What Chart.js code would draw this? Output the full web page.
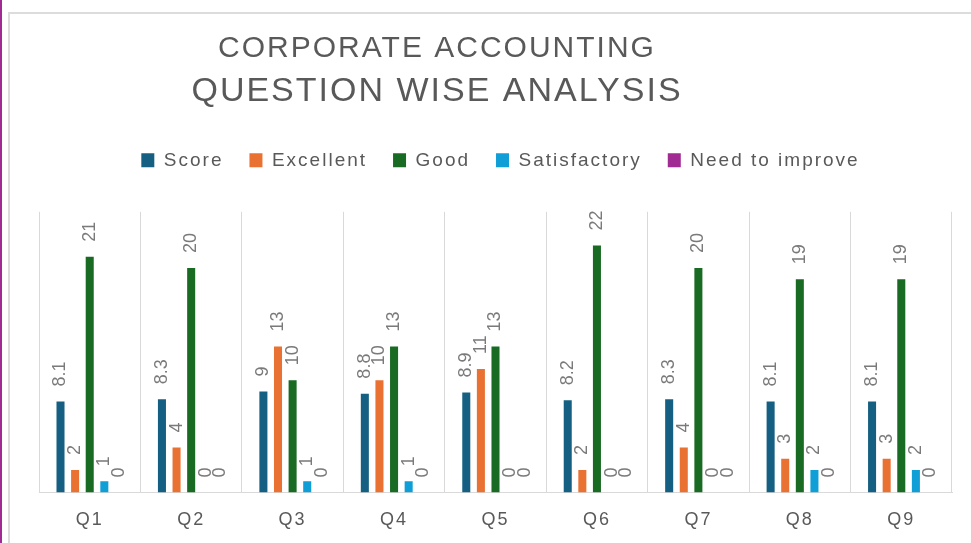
<!DOCTYPE html>
<html>
<head>
<meta charset="utf-8">
<script src="https://cdn.jsdelivr.net/npm/chart.js@4"></script>
<style>
  html, body { margin: 0; padding: 0; background: #fff; }
  body { width: 971px; height: 543px; position: relative; overflow: hidden; }
  #edge { position: absolute; left: 0; top: 0; width: 2px; height: 543px; background: #a02b93; }
  #frame { position: absolute; left: 8px; top: 12px; width: 1000px; height: 600px; border: 2px solid #dcdcdc; box-sizing: border-box; }
  #wrap { position: absolute; left: 0; top: 0; width: 971px; height: 548px; }
</style>
</head>
<body>
<div id="edge"></div>
<div id="frame"></div>
<div id="wrap"><canvas id="chart"></canvas></div>
<script>
const categories = ['Q1', 'Q2', 'Q3', 'Q4', 'Q5', 'Q6', 'Q7', 'Q8', 'Q9'];
const score = [8.1, 8.3, 9, 8.8, 8.9, 8.2, 8.3, 8.1, 8.1];
const excellent = [2, 4, 13, 10, 11, 2, 4, 3, 3];
const good = [21, 20, 10, 13, 13, 22, 20, 19, 19];
const satisfactory = [1, 0, 1, 1, 0, 0, 0, 2, 2];
const needToImprove = [0, 0, 0, 0, 0, 0, 0, 0, 0];

const FONT = "'Liberation Sans', Arial, sans-serif";

// wider letter spacing for title, legend and ticks; data labels reset it
const spacing = {
  id: 'spacing',
  beforeUpdate(chart) {
    chart.ctx.letterSpacing = '2px';
  },
  beforeDraw(chart) {
    chart.ctx.letterSpacing = '2px';
  }
};

// move the title/subtitle centre to the left, legend a bit right, like the original
const boxShift = {
  id: 'boxShift',
  afterLayout(chart) {
    chart.boxes.forEach(b => {
      if (b === chart.legend) {
        b.left += 5;
        b.right += 5;
      } else if (b.position === 'top' && !b.axis) {
        b.left = 0;
        b.right = 874;
        b.width = 874;
      }
    });
  }
};

// rotated value labels above each bar
const barLabels = {
  id: 'barLabels',
  afterDatasetsDraw(chart) {
    const ctx = chart.ctx;
    ctx.save();
    ctx.letterSpacing = '0px';
    ctx.font = '18px ' + FONT;
    ctx.fillStyle = '#7a7a7a';
    ctx.textAlign = 'left';
    ctx.textBaseline = 'middle';
    chart.data.datasets.forEach((ds, i) => {
      const meta = chart.getDatasetMeta(i);
      meta.data.forEach((el, j) => {
        ctx.save();
        ctx.translate(el.x, el.y - 15);
        ctx.rotate(-Math.PI / 2);
        ctx.fillText(String(ds.data[j]), 0, 0);
        ctx.restore();
      });
    });
    ctx.restore();
  }
};

function bar(label, data, color) {
  return {
    label: label,
    data: data,
    backgroundColor: color,
    borderWidth: 0,
    categoryPercentage: 0.72,
    barPercentage: 0.55
  };
}

new Chart(document.getElementById('chart'), {
  type: 'bar',
  data: {
    labels: categories,
    datasets: [
      bar('Score', score, '#156082'),
      bar('Excellent', excellent, '#e97132'),
      bar('Good', good, '#196b24'),
      bar('Satisfactory', satisfactory, '#0f9ed5'),
      bar('Need to improve', needToImprove, '#a02b93')
    ]
  },
  options: {
    responsive: true,
    maintainAspectRatio: false,
    animation: false,
    layout: { padding: { left: 39, right: 19, top: 0, bottom: 0 } },
    plugins: {
      title: {
        display: true,
        text: 'CORPORATE ACCOUNTING',
        color: '#595959',
        font: { family: FONT, size: 30, weight: 'normal', lineHeight: 1.2 },
        padding: { top: 31, bottom: 4 }
      },
      subtitle: {
        display: true,
        text: 'QUESTION WISE ANALYSIS',
        color: '#595959',
        font: { family: FONT, size: 34, weight: 'normal', lineHeight: 1.2 },
        padding: { top: 0, bottom: 13 }
      },
      legend: {
        position: 'top',
        labels: {
          color: '#595959',
          font: { family: FONT, size: 19 },
          boxWidth: 13,
          boxHeight: 14,
          padding: 26
        }
      },
      tooltip: { enabled: false }
    },
    scales: {
      x: {
        grid: { display: true, offset: true, color: '#d9d9d9', lineWidth: 1, drawTicks: false },
        border: { display: true, color: '#d9d9d9', width: 1 },
        ticks: { color: '#595959', font: { family: FONT, size: 18 }, padding: 17, maxRotation: 0 }
      },
      xTop: {
        type: 'category',
        position: 'top',
        grid: { display: false },
        border: { display: false },
        ticks: { display: false },
        afterFit(s) { s.height = 32; }
      },
      y: {
        display: false,
        min: 0,
        max: 25
      }
    }
  },
  plugins: [spacing, boxShift, barLabels]
});
</script>
</body>
</html>
